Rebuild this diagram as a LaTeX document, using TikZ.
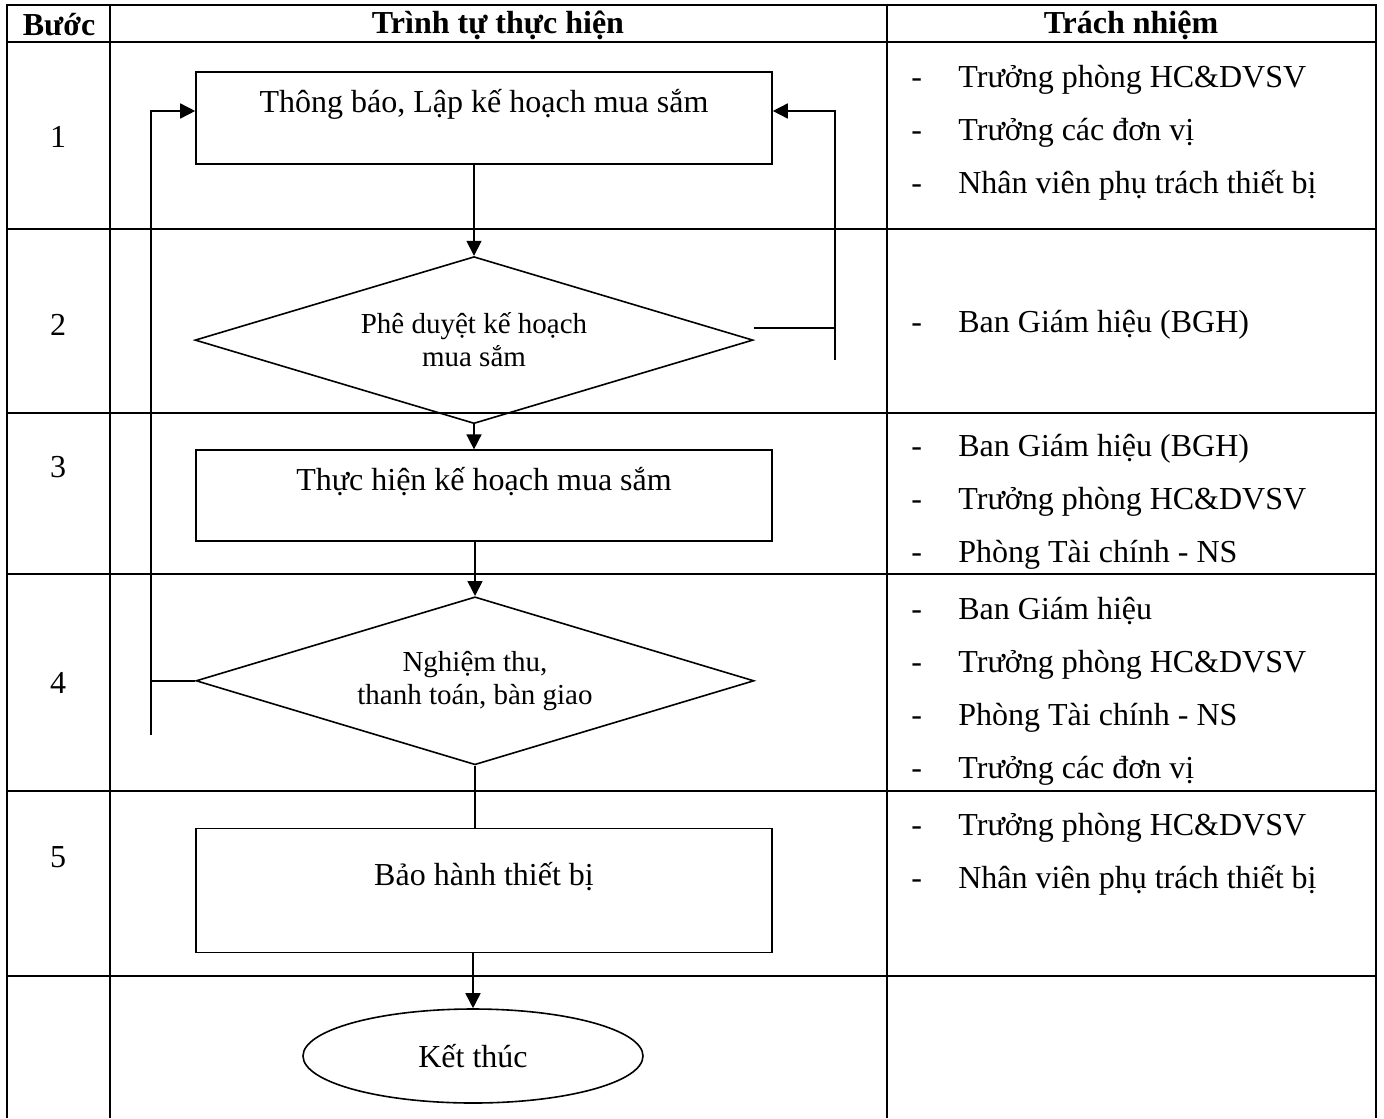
\documentclass[tikz,border=0pt]{standalone}
\usepackage{fontspec}
\setmainfont{Liberation Serif}
\usetikzlibrary{positioning,arrows.meta,shapes.geometric}
\newcommand{\respdash}{\makebox[23.5pt][l]{-}}

\begin{document}
\begin{tikzpicture}[
    x=0.5pt, y=-0.5pt,
    grid/.style={line width=1.4pt},
    flow/.style={line width=0.8pt},
    arrow/.style={-{Triangle[length=7.5pt,width=7.5pt]}, line width=0.8pt},
    head/.style={font=\fontsize{16}{19}\selectfont\bfseries},
    stepnum/.style={font=\fontsize{16}{19}\selectfont},
    stepbox/.style={draw, line width=0.8pt, minimum width=288pt, inner sep=0pt,
                    font=\fontsize{16}{19}\selectfont, text height=10pt, text depth=15pt},
    decision/.style={draw, diamond, aspect=3.35, line width=0.8pt, inner sep=0pt,
                     minimum width=279pt, minimum height=84pt, align=center,
                     font=\fontsize{14.5}{16.5}\selectfont},
    endbox/.style={draw, ellipse, line width=0.8pt, minimum width=170pt,
                   minimum height=47pt, font=\fontsize{16}{19}\selectfont},
    resp/.style={anchor=west, inner sep=0pt, align=left,
                 font=\fontsize{16}{26.5}\selectfont},
]
\useasboundingbox (0,0) rectangle (1384,1118);

% table
\draw[grid] (7,1118) -- (7,5) -- (1376,5) -- (1376,1118);
\draw[grid] (110,5) -- (110,1118) (887,5) -- (887,1118);
\draw[grid] (7,42) -- (1376,42) (7,229) -- (1376,229) (7,413) -- (1376,413)
    (7,574) -- (1376,574) (7,791) -- (1376,791) (7,976) -- (1376,976);

% header
\node[head] (hstep) at (59,25) {Bước};
\node[head] (hflow) at (498,25) {Trình tự thực hiện};
\node[head] (hresp) at (1131,25) {Trách nhiệm};

% step numbers
\node[stepnum] (n1) at (58,137) {1};
\node[stepnum] (n2) at (58,325) {2};
\node[stepnum] (n3) at (58,467) {3};
\node[stepnum] (n4) at (58,683) {4};
\node[stepnum] (n5) at (58,857) {5};

% flowchart
\node[stepbox, minimum height=46pt] (plan) at (484,118)
    {Thông báo, Lập kế hoạch mua sắm};
\node[decision, minimum height=83.5pt, below=45.5pt of plan, xshift=-5pt]
    (approve) {Phê duyệt kế hoạch\\mua sắm};
\node[stepbox, minimum height=45.5pt, below=12.5pt of approve, xshift=5pt]
    (execute) {Thực hiện kế hoạch mua sắm};
\node[decision, below=27pt of execute, xshift=-4.5pt]
    (accept) {Nghiệm thu,\\thanh toán, bàn giao};
\node[stepbox, minimum height=62pt, below=31pt of accept, xshift=4.5pt]
    (warranty) {Bảo hành thiết bị};
\node[endbox, below=27.5pt of warranty, xshift=-5.5pt] (finish) {Kết thúc};

% main flow
\draw[arrow] (plan.south -| approve.north) -- (approve.north);
\draw[arrow] (approve.south) -- (approve.south |- execute.north);
\draw[arrow] (execute.south -| accept.north) -- (accept.north);
\draw[flow] (accept.south) -- (accept.south |- warranty.north);
\draw[arrow] (warranty.south -| finish.north) -- (finish.north);

% loops back to step 1
\coordinate (loopL) at (151,111);
\coordinate (tailL) at (151,735);
\draw[flow] (accept.west) -- (accept.west -| loopL);
\draw[arrow] (tailL) -- (loopL) -- (loopL -| plan.west);
\coordinate (loopR) at (835,111);
\coordinate (tailR) at (835,360);
\draw[flow] ([yshift=6pt]approve.east) -- ([yshift=6pt]approve.east -| loopR);
\draw[arrow] (tailR) -- (loopR) -- (loopR -| plan.east);

% responsibilities
\node[resp] (r1) at (911,132.5) {\respdash Trưởng phòng HC\&DVSV\\
    \respdash Trưởng các đơn vị\\ \respdash Nhân viên phụ trách thiết bị};
\node[resp] (r2) at (911,325) {\respdash Ban Giám hiệu (BGH)};
\node[resp] (r3) at (911,501.5) {\respdash Ban Giám hiệu (BGH)\\
    \respdash Trưởng phòng HC\&DVSV\\ \respdash Phòng Tài chính - NS};
\node[resp] (r4) at (911,691) {\respdash Ban Giám hiệu\\
    \respdash Trưởng phòng HC\&DVSV\\ \respdash Phòng Tài chính - NS\\
    \respdash Trưởng các đơn vị};
\node[resp] (r5) at (911,854) {\respdash Trưởng phòng HC\&DVSV\\
    \respdash Nhân viên phụ trách thiết bị};

\end{tikzpicture}
\end{document}
